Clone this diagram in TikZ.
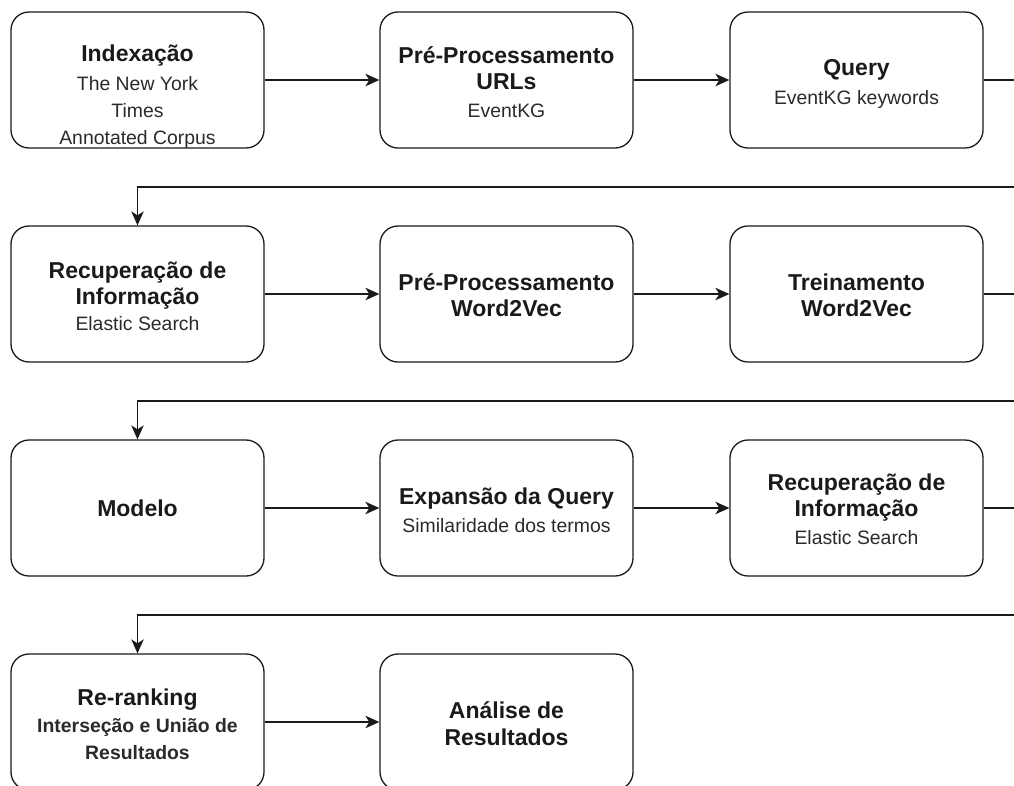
\documentclass[tikz,border=0pt]{standalone}
\usepackage{fontspec}
\setmainfont{Liberation Sans}
\usetikzlibrary{arrows.meta}
\definecolor{txt}{HTML}{1A1A1A}
\definecolor{subtxt}{HTML}{2A2A2A}
\begin{document}
\begin{tikzpicture}[x=1pt,y=-1pt,
  box/.style={draw=txt, line width=1.3pt, rounded corners=18pt, minimum width=253pt, minimum height=136pt, inner sep=0pt},
  arr/.style={draw=txt, line width=1.3pt, -{Stealth[length=14pt,width=12.5pt,inset=4pt]}},
  ttl/.style={anchor=base, inner sep=0pt, text=txt, font=\fontsize{23}{26}\selectfont\bfseries},
  sub/.style={anchor=base, inner sep=0pt, text=subtxt, font=\fontsize{19.4}{23}\selectfont},
  subb/.style={anchor=base, inner sep=0pt, text=subtxt, font=\fontsize{19.4}{23}\selectfont\bfseries}]
\useasboundingbox (0,0) rectangle (1014,785);
\clip (0,0) rectangle (1014,785);
% boxes
\node[box] (b11) at (137.5,80) {};
\node[box] (b12) at (506.5,80) {};
\node[box] (b13) at (856.5,80) {};
\node[box] (b21) at (137.5,294) {};
\node[box] (b22) at (506.5,294) {};
\node[box] (b23) at (856.5,294) {};
\node[box] (b31) at (137.5,508) {};
\node[box] (b32) at (506.5,508) {};
\node[box] (b33) at (856.5,508) {};
\node[box] (b41) at (137.5,722) {};
\node[box] (b42) at (506.5,722) {};
% texts row 1
\node[ttl] (t11a) at (137.5,61) {Indexação};
\node[sub] (t11b) at (137.5,90) {The New York};
\node[sub] (t11c) at (137.5,117) {Times};
\node[sub] (t11d) at (137.5,144) {Annotated Corpus};
\node[ttl] (t12a) at (506.5,63) {Pré-Processamento};
\node[ttl] (t12b) at (506.5,89) {URLs};
\node[sub] (t12c) at (506.5,117) {EventKG};
\node[ttl] (t13a) at (856.5,75) {Query};
\node[sub] (t13b) at (856.5,104) {EventKG keywords};
% row 2
\node[ttl] (t21a) at (137.5,278) {Recuperação de};
\node[ttl] (t21b) at (137.5,304) {Informação};
\node[sub] (t21c) at (137.5,330) {Elastic Search};
\node[ttl] (t22a) at (506.5,290) {Pré-Processamento};
\node[ttl] (t22b) at (506.5,316) {Word2Vec};
\node[ttl] (t23a) at (856.5,290) {Treinamento};
\node[ttl] (t23b) at (856.5,316) {Word2Vec};
% row 3
\node[ttl] (t31a) at (137.5,516) {Modelo};
\node[ttl] (t32a) at (506.5,504) {Expansão da Query};
\node[sub] (t32b) at (506.5,532) {Similaridade dos termos};
\node[ttl] (t33a) at (856.5,490) {Recuperação de};
\node[ttl] (t33b) at (856.5,516) {Informação};
\node[sub] (t33c) at (856.5,544) {Elastic Search};
% row 4
\node[ttl] (t41a) at (137.5,705) {Re-ranking};
\node[subb] (t41b) at (137.5,732) {Interseção e União de};
\node[subb] (t41c) at (137.5,759) {Resultados};
\node[ttl] (t42a) at (506.5,718) {Análise de};
\node[ttl] (t42b) at (506.5,745) {Resultados};
% connectors
\coordinate (r1) at (1040,187);
\coordinate (r2) at (1040,401);
\coordinate (r3) at (1040,615);
\draw[arr] (b11.east) -- (b12.west);
\draw[arr] (b12.east) -- (b13.west);
\draw[arr] (b13.east) -| (r1) -| (b21.north);
\draw[arr] (b21.east) -- (b22.west);
\draw[arr] (b22.east) -- (b23.west);
\draw[arr] (b23.east) -| (r2) -| (b31.north);
\draw[arr] (b31.east) -- (b32.west);
\draw[arr] (b32.east) -- (b33.west);
\draw[arr] (b33.east) -| (r3) -| (b41.north);
\draw[arr] (b41.east) -- (b42.west);
\end{tikzpicture}
\end{document}
